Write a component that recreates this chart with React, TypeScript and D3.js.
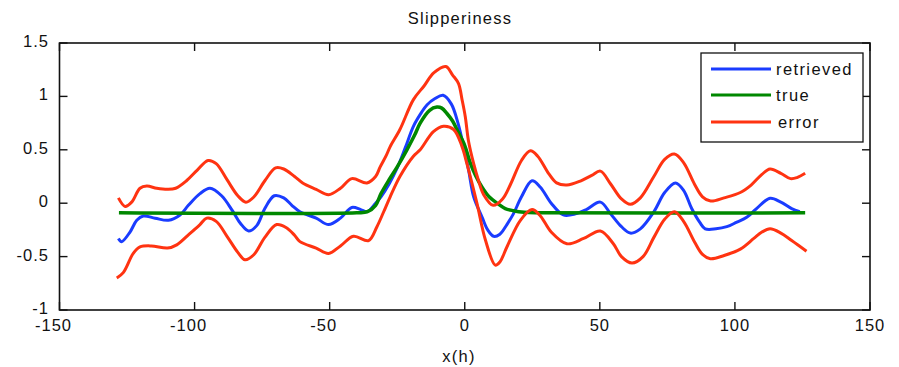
import React from "react";
import * as d3 from "d3";

const title = "Slipperiness";
const xLabel = "x(h)";
const xTicks = [-150, -100, -50, 0, 50, 100, 150];
const xTickLabels = ["-150", "-100", "-50", "0", "50", "100", "150"];
const yTicks = [-1, -0.5, 0, 0.5, 1, 1.5];
const yTickLabels = ["-1", "-0.5", "0", "0.5", "1", "1.5"];
const legendLabels = ["retrieved", "true", "error"];

const retrievedX = [-128.2, -127, -123.9, -121.4, -119, -114.6, -109.7, -105.4, -102.3, -98, -94.3, -90, -86, -83, -80, -77, -74, -70.5, -67, -64, -61, -55, -50.4, -46, -41.8, -38.5, -36.2, -33, -31, -28, -25, -22, -19, -16, -14, -11, -8, -5, -2.5, 0, 1.5, 3.3, 6.4, 8.5, 10.7, 13, 15.6, 18, 21, 24.9, 28, 32, 36.5, 41, 45, 50.2, 54, 58, 61.3, 65, 70, 74, 78, 81, 84, 87, 89, 93, 97, 100.5, 104.5, 108, 113, 117, 121, 124];
const retrievedY = [-0.33, -0.36, -0.27, -0.16, -0.12, -0.14, -0.16, -0.11, -0.02, 0.09, 0.14, 0.07, -0.07, -0.19, -0.26, -0.21, -0.05, 0.07, 0.05, -0.02, -0.08, -0.14, -0.2, -0.14, -0.04, -0.06, -0.08, 0.0, 0.06, 0.18, 0.33, 0.52, 0.72, 0.85, 0.92, 0.98, 1.01, 0.93, 0.75, 0.48, 0.3, 0.06, -0.13, -0.25, -0.31, -0.29, -0.2, -0.1, 0.06, 0.21, 0.15, 0.0, -0.11, -0.1, -0.06, 0.01, -0.1, -0.22, -0.28, -0.24, -0.08, 0.1, 0.19, 0.12, -0.05, -0.18, -0.24, -0.24, -0.22, -0.18, -0.13, -0.05, 0.046, 0.01, -0.05, -0.08];

const trueX = [-128, -40, -36, -33, -31, -28, -25, -21.4, -18.5, -16.5, -13, -10.3, -8.5, -6.6, -4.5, -2.9, 0, 2, 4, 6.4, 9, 12, 15, 18, 22, 27, 126];
const trueY = [-0.09, -0.09, -0.08, -0.02, 0.09, 0.22, 0.34, 0.5, 0.64, 0.75, 0.87, 0.9, 0.89, 0.84, 0.77, 0.69, 0.54, 0.38, 0.26, 0.15, 0.06, 0.0, -0.05, -0.07, -0.085, -0.09, -0.09];

const errorUpperX = [-128.2, -125.7, -123.3, -120.2, -117.7, -114, -110, -107, -103, -99, -95, -92, -88, -84, -81, -78, -74, -70, -67, -63, -60, -55, -50.4, -46, -41.8, -36.2, -33, -31.3, -29, -27.6, -24, -19, -15, -11.5, -7, -4.5, -2.3, -1, 0.2, 1.4, 3.3, 5, 7, 10.5, 14, 17, 21, 24.3, 27, 31, 34, 37.8, 43, 47, 50.2, 54, 58, 61.3, 65, 70, 74, 77.6, 81, 85, 88, 91, 96, 102, 106, 110, 113, 117, 120.6, 123, 126];
const errorUpperY = [0.05, -0.03, 0.01, 0.14, 0.16, 0.14, 0.13, 0.14, 0.21, 0.31, 0.4, 0.37, 0.22, 0.07, 0.01, 0.06, 0.21, 0.33, 0.32, 0.25, 0.19, 0.13, 0.08, 0.14, 0.23, 0.19, 0.25, 0.34, 0.45, 0.53, 0.69, 0.97, 1.1, 1.22, 1.28, 1.2, 1.12, 0.97, 0.81, 0.58, 0.37, 0.22, 0.08, -0.02, 0.04, 0.18, 0.4, 0.49, 0.44, 0.28, 0.19, 0.17, 0.21, 0.26, 0.3, 0.18, 0.04, -0.01, 0.05, 0.25, 0.41, 0.46, 0.38, 0.18, 0.06, 0.02, 0.05, 0.1, 0.17, 0.27, 0.32, 0.28, 0.23, 0.24, 0.28];

const errorLowerX = [-128.8, -126.4, -122.7, -120.2, -116, -110, -106.6, -102, -98, -95.5, -92, -88, -84, -81.3, -78, -74, -69.6, -66, -63, -61, -55, -50.4, -46, -41.2, -35.6, -32.5, -30, -27.6, -24, -19, -16.5, -11.6, -7.9, -4.1, -1, 0.8, 4.5, 7.6, 11.3, 13, 15.6, 20.6, 24.9, 28, 32, 37.8, 44, 50.2, 55, 58, 61.9, 66, 70, 74, 77.6, 81, 85, 88, 90.9, 96, 102, 107, 110, 113, 117, 121, 126.5];
const errorLowerY = [-0.7, -0.65, -0.47, -0.41, -0.4, -0.42, -0.39, -0.29, -0.2, -0.14, -0.17, -0.31, -0.46, -0.53, -0.48, -0.32, -0.2, -0.23, -0.3, -0.36, -0.42, -0.47, -0.4, -0.31, -0.35, -0.22, -0.08, 0.06, 0.25, 0.44, 0.5, 0.67, 0.72, 0.69, 0.53, 0.37, 0.0, -0.34, -0.58, -0.55, -0.41, -0.16, -0.06, -0.12, -0.27, -0.38, -0.33, -0.26, -0.38, -0.5, -0.56, -0.5, -0.32, -0.15, -0.08, -0.17, -0.36, -0.48, -0.52, -0.49, -0.43, -0.33, -0.27, -0.24, -0.28, -0.35, -0.45];

const BLUE = "#1a3cff";
const GREEN = "#008800";
const RED = "#ff3311";

export default function App() {
  const W = 899, H = 367;
  const L = 59.5, R = 870, T = 43, B = 310;
  const x = d3.scaleLinear().domain([-150, 150]).range([L, R]);
  const y = d3.scaleLinear().domain([-1, 1.5]).range([B, T]);
  const line = d3
    .line<[number, number]>()
    .x((d) => x(d[0]))
    .y((d) => y(d[1]))
    .curve(d3.curveCatmullRom.alpha(0.5));
  const zip = (xs: number[], ys: number[]) => xs.map((v, i) => [v, ys[i]] as [number, number]);
  const font = "'Liberation Sans', Arial, Helvetica, sans-serif";
  const tickLen = 8;
  const legendY = [69, 95, 122];
  const legendColors = [BLUE, GREEN, RED];
  const textColor = "#111";

  return (
    <svg width={W} height={H} style={{ position: "absolute", left: 0, top: 0, background: "#fff" }}
      fontFamily={font} fontSize={16.5}>
      <rect x={0} y={0} width={W} height={H} fill="#fff" />
      <path d={line(zip(retrievedX, retrievedY)) || ""} fill="none" stroke={BLUE} strokeWidth={3} />
      <path d={line(zip(trueX, trueY)) || ""} fill="none" stroke={GREEN} strokeWidth={3.5} />
      <path d={line(zip(errorUpperX, errorUpperY)) || ""} fill="none" stroke={RED} strokeWidth={3} />
      <path d={line(zip(errorLowerX, errorLowerY)) || ""} fill="none" stroke={RED} strokeWidth={3} />

      <rect x={L} y={T} width={R - L} height={B - T} fill="none" stroke="#111" strokeWidth={1.6} />
      {xTicks.map((t, i) => (
        <g key={"xt" + i}>
          <line x1={x(t)} x2={x(t)} y1={B} y2={B - tickLen} stroke="#111" strokeWidth={1.4} />
          <line x1={x(t)} x2={x(t)} y1={T} y2={T + tickLen} stroke="#111" strokeWidth={1.4} />
          <text x={x(t)} dx={t < 0 ? -6 : 0} y={B + 21} textAnchor="middle" fill={textColor} letterSpacing={1}>
            {xTickLabels[i]}
          </text>
        </g>
      ))}
      {yTicks.map((t, i) => (
        <g key={"yt" + i}>
          <line x1={L} x2={L + tickLen} y1={y(t)} y2={y(t)} stroke="#111" strokeWidth={1.4} />
          <line x1={R} x2={R - tickLen} y1={y(t)} y2={y(t)} stroke="#111" strokeWidth={1.4} />
          <text x={49} y={y(t) + 4} textAnchor="end" fill={textColor} letterSpacing={1}>
            {yTickLabels[i]}
          </text>
        </g>
      ))}
      <text x={460} y={24} textAnchor="middle" fill={textColor} letterSpacing={1.2}>{title}</text>
      <text x={459} y={362} textAnchor="middle" fill={textColor} letterSpacing={1.3}>{xLabel}</text>

      <rect x={701} y={53} width={162} height={89} fill="#fff" stroke="#111" strokeWidth={1.3} />
      {legendLabels.map((lab, i) => (
        <g key={"lg" + i}>
          <line x1={711} x2={771} y1={legendY[i]} y2={legendY[i]} stroke={legendColors[i]} strokeWidth={3} />
          <text x={i === 2 ? 778 : 776} y={legendY[i] + 6} fill={textColor} letterSpacing={1.4}>{lab}</text>
        </g>
      ))}
    </svg>
  );
}
